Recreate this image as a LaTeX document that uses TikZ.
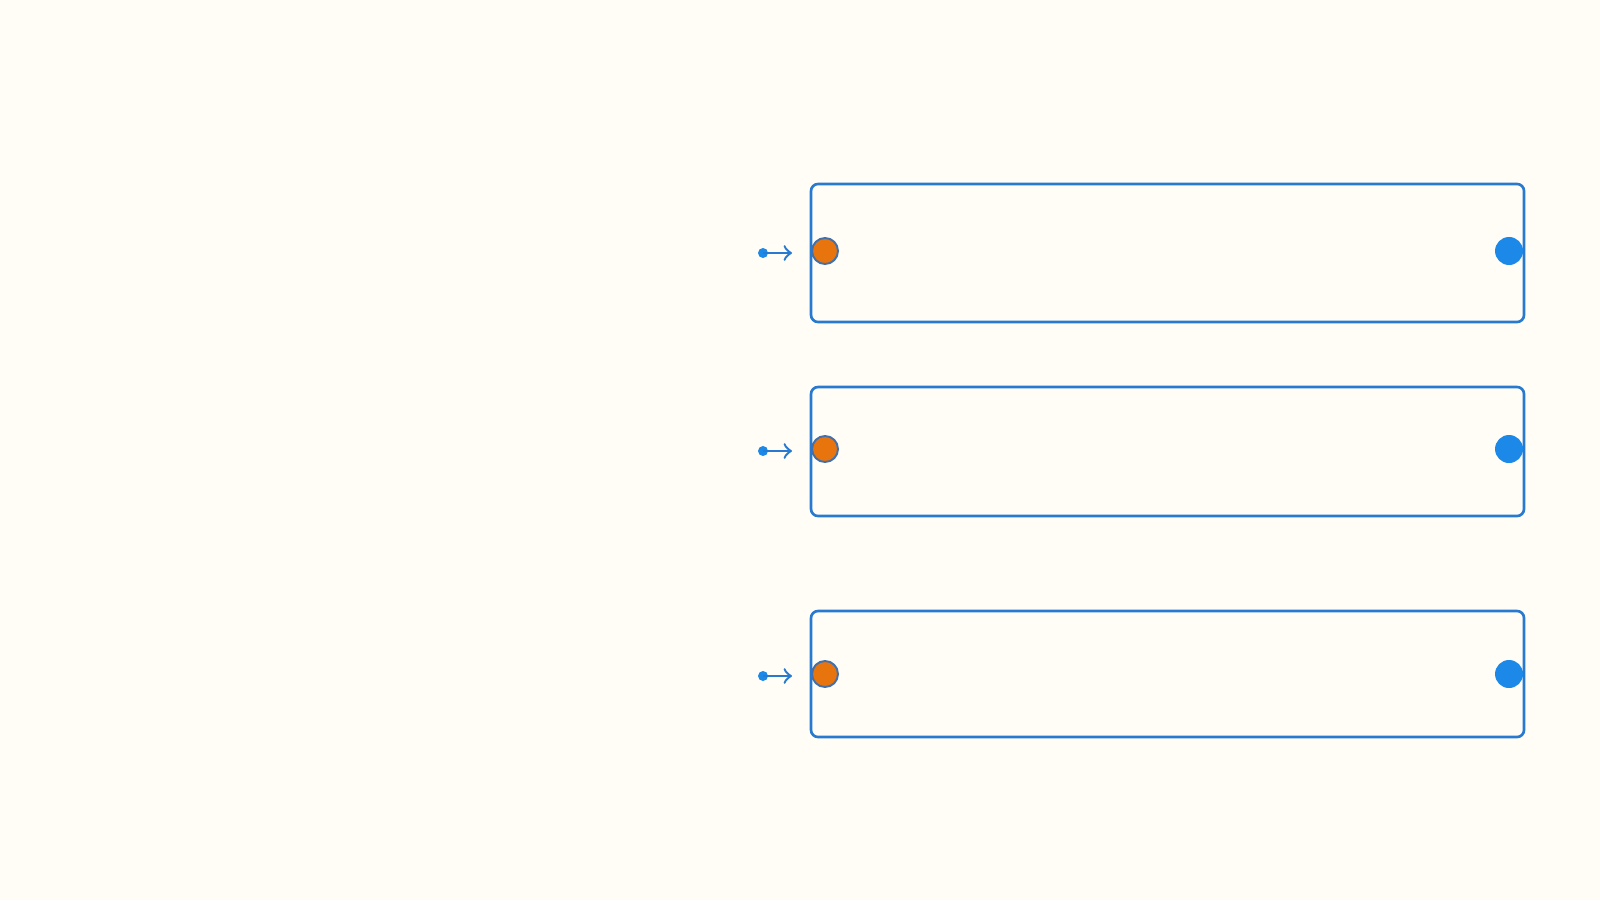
\documentclass[tikz,border=0pt]{standalone}
\usetikzlibrary{shapes,arrows,positioning}
\definecolor{bgcream}{RGB}{255,253,245}
\definecolor{boxblue}{RGB}{40,122,208}
\definecolor{dotblue}{RGB}{28,136,232}
\definecolor{dotorange}{RGB}{232,116,14}
\definecolor{ringblue}{RGB}{66,112,170}
\begin{document}
\begin{tikzpicture}
 \tikzset{main node/.style={rectangle, draw=boxblue, line width=0.75pt,
 		minimum width=7.13cm, inner sep=0pt, rounded corners=0.07cm}, }
 \tikzset{in node/.style={circle, fill=dotorange, draw=ringblue,
 		line width=0.55pt, minimum size=0.26cm, inner sep=0pt}, }
 \tikzset{out node/.style={circle, fill=dotblue,
 		minimum size=0.28cm, inner sep=0pt}, }
 \tikzset{src node/.style={circle, fill=dotblue,
 		minimum size=0.1cm, inner sep=0pt}, }
 \tikzset{linea/.style={->, draw=boxblue, line width=0.7pt},}
 \fill[bgcream] (0,0) rectangle (16,9);
 \useasboundingbox (0,0) rectangle (16,9);
 \node[main node, minimum height=1.38cm] (1) at (11.675,6.47) {};
 \node[main node, minimum height=1.29cm] (2) at (11.675,4.485) {};
 \node[main node, minimum height=1.26cm] (3) at (11.675,2.26) {};

 \node[in node] (1a) at (8.25,6.49) {};
 \node[in node] (2a) at (8.25,4.51) {};
 \node[in node] (3a) at (8.25,2.26) {};
 \node[out node] (1b) at (15.09,6.49) {};
 \node[out node] (2b) at (15.09,4.51) {};
 \node[out node] (3b) at (15.09,2.26) {};

 \node[src node] (1s) at (7.63,6.47) {};
 \node[src node] (2s) at (7.63,4.49) {};
 \node[src node] (3s) at (7.63,2.24) {};
 \coordinate (1e) at (7.92,6.47);
 \coordinate (2e) at (7.92,4.49);
 \coordinate (3e) at (7.92,2.24);
 \foreach \x in{1,2,3}
 \draw[linea] (\x s.center) -- (\x e);
% %% 
 \end{tikzpicture}
\end{document}
